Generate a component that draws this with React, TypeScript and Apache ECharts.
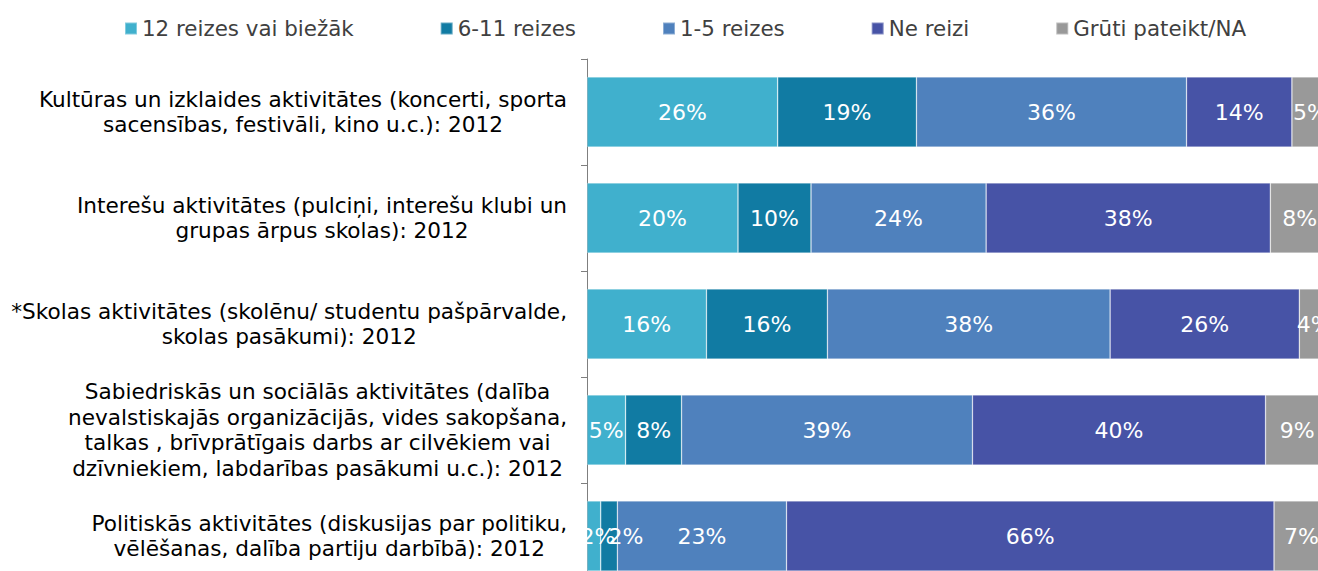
import React, { useEffect, useRef } from "react";
import * as echarts from "echarts";

const categories = [
  "Kultūras un izklaides aktivitātes (koncerti, sporta\nsacensības, festivāli, kino u.c.): 2012",
  "Interešu aktivitātes (pulciņi, interešu klubi un\ngrupas ārpus skolas): 2012",
  "*Skolas aktivitātes (skolēnu/ studentu pašpārvalde,\nskolas pasākumi): 2012",
  "Sabiedriskās un sociālās aktivitātes (dalība\nnevalstiskajās organizācijās, vides sakopšana,\ntalkas , brīvprātīgais darbs ar cilvēkiem vai\ndzīvniekiem, labdarības pasākumi u.c.): 2012",
  "Politiskās aktivitātes (diskusijas par politiku,\nvēlēšanas, dalība partiju darbībā): 2012",
];

const seriesNames = ["12 reizes vai biežāk", "6-11 reizes", "1-5 reizes", "Ne reizi", "Grūti pateikt/NA"];
const seriesColors = ["#40B0CD", "#117BA3", "#4F81BD", "#4753A6", "#999999"];

const often = [25.7, 20.35, 16.1, 5.2, 1.85];
const sixToEleven = [18.7, 9.84, 16.3, 7.55, 2.24];
const oneToFive = [36.4, 23.6, 38.1, 39.2, 22.8];
const never = [14.2, 38.3, 25.5, 39.5, 65.7];
const hardToSay = [5.0, 7.9, 4.0, 8.55, 7.4];

const seriesValues = [often, sixToEleven, oneToFive, never, hardToSay];

// small label nudges for the two tiny segments of the last row (as in the original)
const labelShift: Record<string, number> = { "0-4": 4, "1-4": 17 };

const FONT = "'DejaVu Sans', Verdana, sans-serif";

export default function App() {
  const ref = useRef<HTMLDivElement>(null);
  useEffect(() => {
    if (!ref.current) return;
    const chart = echarts.init(ref.current, undefined, { renderer: "svg" });
    chart.setOption({
      animation: false,
      textStyle: { fontFamily: FONT },
      legend: {
        left: 124,
        top: 18,
        padding: 0,
        itemWidth: 12,
        itemHeight: 12,
        itemGap: 86,
        icon: "rect",
        textStyle: { fontSize: 21.4, color: "#404040", fontFamily: FONT },
        data: seriesNames,
      },
      grid: { left: 587, top: 59, width: 742, height: 530, containLabel: false },
      xAxis: {
        type: "value",
        min: 0,
        max: 100,
        show: false,
        splitLine: { show: false },
      },
      yAxis: {
        type: "category",
        inverse: true,
        data: categories,
        axisLine: { show: true, lineStyle: { color: "#7f7f7f", width: 1 } },
        axisTick: { show: true, length: 6, lineStyle: { color: "#7f7f7f" } },
        axisLabel: {
          margin: 20,
          align: "right",
          fontSize: 21.6,
          color: "#000",
          fontFamily: FONT,
          formatter: (v: string) =>
            v
              .split("\n")
              .map((l) => `{c|${l}}`)
              .join("\n"),
          rich: {
            c: { align: "center", fontSize: 21.6, lineHeight: 25.8, color: "#000", fontFamily: FONT },
          },
        },
      },
      series: seriesNames.map((name, i) => ({
        name,
        type: "bar",
        stack: "total",
        barWidth: 70,
        data: seriesValues[i].map((v, j) => {
          const s = labelShift[`${i}-${j}`];
          return s ? { value: v, label: { offset: [s, 0] } } : v;
        }),
        itemStyle: {
          color: seriesColors[i],
          borderColor: "rgba(255,255,255,0.35)",
          borderWidth: 0.7,
        },
        label: {
          show: true,
          position: "inside",
          color: "#fff",
          fontSize: 22,
          fontFamily: FONT,
          formatter: (p: any) => `${Math.round(p.value)}%`,
        },
      })),
    });
    return () => chart.dispose();
  }, []);
  return (
    <div
      style={{
        position: "fixed",
        left: 0,
        top: 0,
        width: 1318,
        height: 571,
        overflow: "hidden",
        background: "#fff",
      }}
    >
      <div ref={ref} style={{ width: 1340, height: 600 }} />
    </div>
  );
}
